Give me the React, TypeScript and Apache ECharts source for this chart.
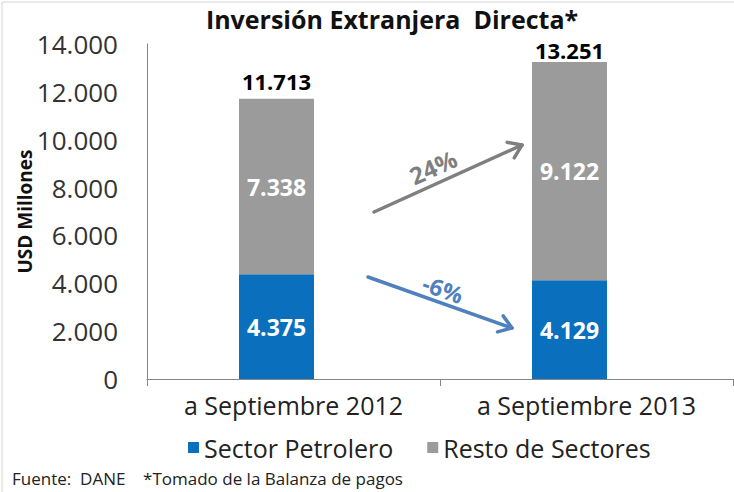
import React, { useEffect, useRef } from "react";
import * as echarts from "echarts";

const categories = ["a Septiembre 2012", "a Septiembre 2013"];
const petrolero = [4375, 4129];
const resto = [7338, 9122];
const totals = categories.map((_, i) => petrolero[i] + resto[i]);
const yMin = 0;
const yMax = 14000;
const yInterval = 2000;
const changeLabels = ["24%", "-6%"];
const seriesNames = ["Sector Petrolero", "Resto de Sectores"];

const FONT = "'Open Sans', 'Noto Sans', sans-serif";
const BLUE = "#0A70BE";
const GRAY = "#9B9B9B";

const fmt = (n: number) =>
  String(Math.round(n)).replace(/\B(?=(\d{3})+(?!\d))/g, ".");

function arrow(x1: number, y1: number, x2: number, y2: number, color: string, lw: number) {
  const ang = Math.atan2(y2 - y1, x2 - x1);
  const head = 15;
  const spread = 0.6;
  const p1 = [x2 - head * Math.cos(ang - spread), y2 - head * Math.sin(ang - spread)];
  const p2 = [x2 - head * Math.cos(ang + spread), y2 - head * Math.sin(ang + spread)];
  return [
    {
      type: "line",
      shape: { x1, y1, x2, y2 },
      style: { stroke: color, lineWidth: lw, lineCap: "round" },
    },
    {
      type: "polyline",
      shape: { points: [p1, [x2, y2], p2] },
      style: { stroke: color, lineWidth: lw, fill: null, lineCap: "round", lineJoin: "round" },
    },
  ];
}

export default function App() {
  const ref = useRef<HTMLDivElement>(null);
  useEffect(() => {
    if (!ref.current) return;
    const chart = echarts.init(ref.current, undefined, { renderer: "svg" });
    const barW = 75;
    chart.setOption({
      animation: false,
      backgroundColor: "#ffffff",
      textStyle: { fontFamily: FONT },
      grid: { left: 147, top: 44, right: 1, height: 335, containLabel: false },
      legend: {
        data: seriesNames,
        left: 183,
        top: 430,
        itemWidth: 11,
        itemHeight: 11,
        itemGap: 34,
        icon: "rect",
        textStyle: { fontFamily: FONT, fontSize: 25, color: "#222" },
      },
      xAxis: {
        type: "category",
        data: categories,
        axisLine: { lineStyle: { color: "#868686", width: 1 } },
        axisTick: { show: true, length: 7, lineStyle: { color: "#868686" } },
        axisLabel: { fontFamily: FONT, fontSize: 25, color: "#222", margin: 13 },
      },
      yAxis: {
        type: "value",
        min: yMin,
        max: yMax,
        interval: yInterval,
        name: "USD Millones",
        nameLocation: "middle",
        nameGap: 113,
        nameMoveOverlap: false,
        nameRotate: 90,
        nameTextStyle: { fontFamily: FONT, fontSize: 19, fontWeight: "bold", color: "#111" },
        axisLine: { show: true, lineStyle: { color: "#868686", width: 1 } },
        axisTick: { show: false },
        splitLine: { show: false },
        axisLabel: {
          fontFamily: FONT,
          fontSize: 26,
          color: "#333",
          margin: 29,
          formatter: (v: number) => fmt(v),
        },
      },
      series: [
        {
          name: seriesNames[0],
          type: "bar",
          stack: "total",
          data: petrolero,
          barWidth: barW,
          barGap: "0%",
          itemStyle: { color: BLUE },
          label: {
            show: true,
            position: "inside",
            color: "#fff",
            fontFamily: FONT,
            fontWeight: "bold",
            fontSize: 23,
            formatter: (p: any) => fmt(p.value),
          },
        },
        {
          name: seriesNames[1],
          type: "bar",
          stack: "total",
          data: resto,
          barWidth: barW,
          barGap: "0%",
          itemStyle: { color: GRAY },
          label: {
            show: true,
            position: "inside",
            color: "#fff",
            fontFamily: FONT,
            fontWeight: "bold",
            fontSize: 23,
            formatter: (p: any) => fmt(p.value),
          },
        },
        {
          name: "Total",
          type: "bar",
          stack: "total",
          data: totals.map((_, i) => ({ value: 0, label: { distance: i === 0 ? 7 : 1 } })),
          barWidth: barW,
          barGap: "0%",
          itemStyle: { color: "transparent" },
          silent: true,
          label: {
            show: true,
            position: "top",
            distance: 1,
            color: "#000",
            fontFamily: FONT,
            fontWeight: "bold",
            fontSize: 22,
            lineHeight: 22,
            formatter: (p: any) => fmt(totals[p.dataIndex]),
          },
        },
        {
          name: "ghost",
          type: "bar",
          data: totals.map(() => 0),
          barWidth: 34,
          barGap: "0%",
          itemStyle: { color: "transparent" },
          silent: true,
        },
      ],
      graphic: [
        {
          type: "line",
          shape: { x1: 2, y1: 2, x2: 734, y2: 2 },
          style: { stroke: "#D4D4D4", lineWidth: 1 },
        },
        {
          type: "line",
          shape: { x1: 2, y1: 2, x2: 2, y2: 492 },
          style: { stroke: "#D4D4D4", lineWidth: 1 },
        },
        {
          type: "text",
          style: {
            text: "Inversión Extranjera  Directa*",
            x: 392,
            y: 19,
            align: "center",
            verticalAlign: "middle",
            font: `bold 25px ${FONT}`,
            lineHeight: 25,
            fill: "#111",
          },
        },
        ...arrow(374, 212, 522, 145, "#7F7F7F", 3.5),
        ...arrow(368, 277, 512, 328, "#4F81BD", 3.5),
        {
          type: "text",
          x: 433,
          y: 167,
          rotation: 0.42,
          style: {
            text: changeLabels[0],
            x: 0,
            y: 0,
            align: "center",
            verticalAlign: "middle",
            font: `bold 24px ${FONT}`,
            fill: "#7F7F7F",
          },
        },
        {
          type: "text",
          x: 443,
          y: 289,
          rotation: -0.34,
          style: {
            text: changeLabels[1],
            x: 0,
            y: 0,
            align: "center",
            verticalAlign: "middle",
            font: `bold 23px ${FONT}`,
            fill: "#4F81BD",
          },
        },
        {
          type: "text",
          style: {
            text: "Fuente:  DANE    *Tomado de la Balanza de pagos",
            x: 12,
            y: 478,
            verticalAlign: "middle",
            font: `17px ${FONT}`,
            fill: "#222",
          },
        },
      ],
    });
    return () => chart.dispose();
  }, []);
  return (
    <div
      ref={ref}
      style={{ position: "fixed", left: 0, top: 0, width: 734, height: 492 }}
    />
  );
}
